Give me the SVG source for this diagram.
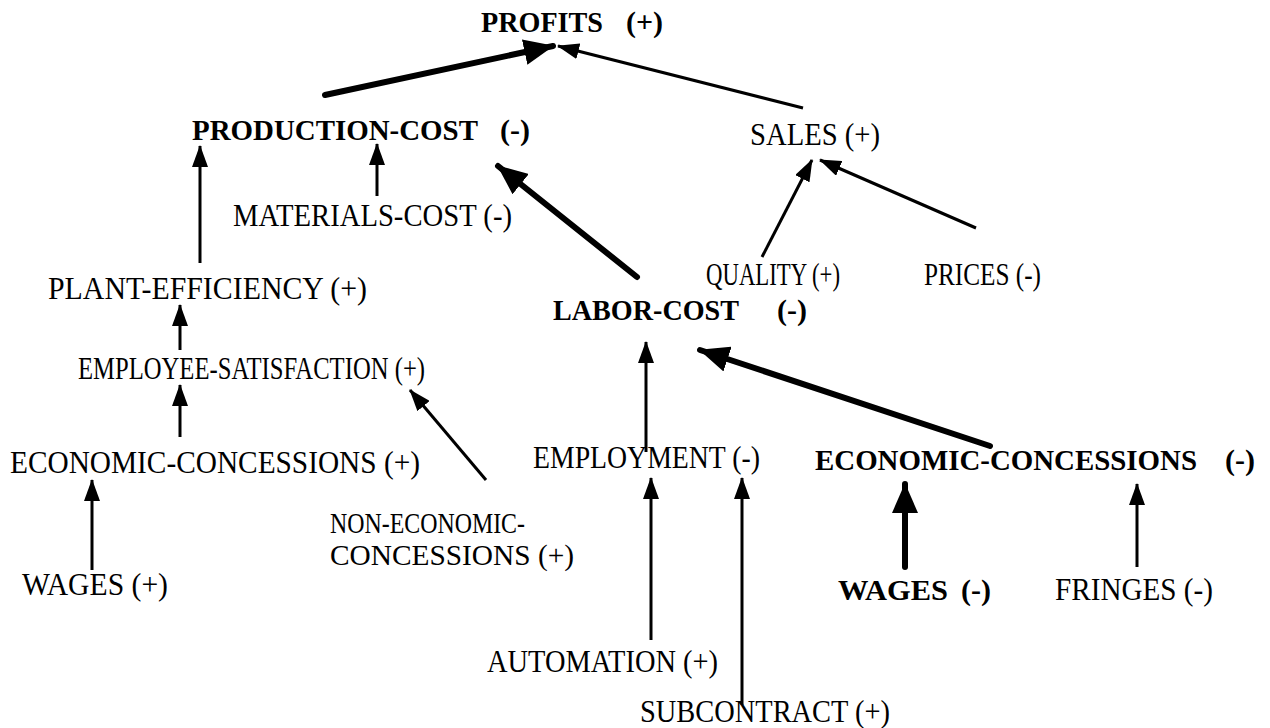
<svg xmlns="http://www.w3.org/2000/svg" width="1270" height="728" viewBox="0 0 1270 728">
<style>
text{font-family:"Liberation Serif","Times New Roman",serif;fill:#000}
.b{font-weight:bold;font-size:30px}
.r{font-size:31px}
.s{font-size:29px}
.thin{stroke:#000;stroke-width:3;fill:none}
.thick{stroke:#000;stroke-width:6;fill:none;stroke-linecap:round}
</style>
<defs>
<marker id="sm" markerUnits="userSpaceOnUse" markerWidth="22" markerHeight="16" refX="21" refY="8" orient="auto"><path d="M0,0 L22,8 L0,16 z" fill="#000"/></marker>
<marker id="bg" markerUnits="userSpaceOnUse" markerWidth="30" markerHeight="26" refX="29" refY="13" orient="auto"><path d="M0,0 L30,13 L0,26 z" fill="#000"/></marker>
</defs>
<rect width="1270" height="728" fill="#fff"/>
<g id="connectors">
<line class="thick" x1="325" y1="95" x2="553" y2="46" marker-end="url(#bg)"/>
<line class="thin" x1="803" y1="108" x2="558" y2="46" marker-end="url(#sm)"/>
<line class="thin" x1="377" y1="196" x2="377" y2="144" marker-end="url(#sm)"/>
<line class="thin" x1="200" y1="263" x2="200" y2="146" marker-end="url(#sm)"/>
<line class="thick" x1="637" y1="277" x2="498" y2="166" marker-end="url(#bg)"/>
<line class="thin" x1="762" y1="257" x2="812" y2="160" marker-end="url(#sm)"/>
<line class="thin" x1="976" y1="228" x2="820" y2="160" marker-end="url(#sm)"/>
<line class="thin" x1="180" y1="350" x2="180" y2="305" marker-end="url(#sm)"/>
<line class="thin" x1="180" y1="437" x2="180" y2="385" marker-end="url(#sm)"/>
<line class="thin" x1="92" y1="570" x2="92" y2="480" marker-end="url(#sm)"/>
<line class="thin" x1="486" y1="480" x2="410" y2="390" marker-end="url(#sm)"/>
<line class="thin" x1="646" y1="452" x2="646" y2="342" marker-end="url(#sm)"/>
<line class="thick" x1="990" y1="446" x2="700" y2="350" marker-end="url(#bg)"/>
<line class="thin" x1="651" y1="640" x2="651" y2="478" marker-end="url(#sm)"/>
<line class="thin" x1="742" y1="705" x2="742" y2="478" marker-end="url(#sm)"/>
<line class="thick" x1="905" y1="567" x2="905" y2="484" marker-end="url(#bg)"/>
<line class="thin" x1="1137" y1="567" x2="1137" y2="484" marker-end="url(#sm)"/>
</g>
<g id="profits"><text class="b" x="481" y="32" textLength="122" lengthAdjust="spacingAndGlyphs">PROFITS</text><text class="b" x="626" y="32">(+)</text></g>
<g id="production-cost"><text class="b" x="192" y="140" textLength="286" lengthAdjust="spacingAndGlyphs">PRODUCTION-COST</text><text class="b" x="500" y="140">(-)</text></g>
<g id="sales"><text class="r" x="750" y="145" textLength="130" lengthAdjust="spacingAndGlyphs">SALES (+)</text></g>
<g id="materials-cost"><text class="r" x="233" y="226" textLength="279" lengthAdjust="spacingAndGlyphs">MATERIALS-COST (-)</text></g>
<g id="quality"><text class="r" x="706" y="285" textLength="134" lengthAdjust="spacingAndGlyphs">QUALITY (+)</text></g>
<g id="prices"><text class="r" x="924" y="285" textLength="117" lengthAdjust="spacingAndGlyphs">PRICES (-)</text></g>
<g id="plant-efficiency"><text class="r" x="48" y="299" textLength="319" lengthAdjust="spacingAndGlyphs">PLANT-EFFICIENCY (+)</text></g>
<g id="labor-cost"><text class="b" x="553" y="320" textLength="186" lengthAdjust="spacingAndGlyphs">LABOR-COST</text><text class="b" x="777" y="320">(-)</text></g>
<g id="employee-satisfaction"><text class="r" x="78" y="379" textLength="347" lengthAdjust="spacingAndGlyphs">EMPLOYEE-SATISFACTION (+)</text></g>
<g id="economic-concessions-pos"><text class="r" x="10" y="473" textLength="410" lengthAdjust="spacingAndGlyphs">ECONOMIC-CONCESSIONS (+)</text></g>
<g id="non-economic-concessions"><text class="s" x="330" y="533" textLength="195" lengthAdjust="spacingAndGlyphs">NON-ECONOMIC-</text><text class="s" x="330" y="565" textLength="244" lengthAdjust="spacingAndGlyphs">CONCESSIONS (+)</text></g>
<g id="wages-pos"><text class="r" x="22" y="595" textLength="146" lengthAdjust="spacingAndGlyphs">WAGES (+)</text></g>
<g id="employment"><text class="r" x="533" y="468" textLength="227" lengthAdjust="spacingAndGlyphs">EMPLOYMENT (-)</text></g>
<g id="economic-concessions-neg"><text class="b" x="815" y="470" textLength="382" lengthAdjust="spacingAndGlyphs">ECONOMIC-CONCESSIONS</text><text class="b" x="1225" y="470">(-)</text></g>
<g id="wages-neg"><text class="b" x="838" y="600" textLength="110" lengthAdjust="spacingAndGlyphs">WAGES</text><text class="b" x="961" y="600">(-)</text></g>
<g id="fringes"><text class="r" x="1055" y="600" textLength="158" lengthAdjust="spacingAndGlyphs">FRINGES (-)</text></g>
<g id="automation"><text class="r" x="487" y="672" textLength="231" lengthAdjust="spacingAndGlyphs">AUTOMATION (+)</text></g>
<g id="subcontract"><text class="r" x="640" y="722" textLength="250" lengthAdjust="spacingAndGlyphs">SUBCONTRACT (+)</text></g>
</svg>
